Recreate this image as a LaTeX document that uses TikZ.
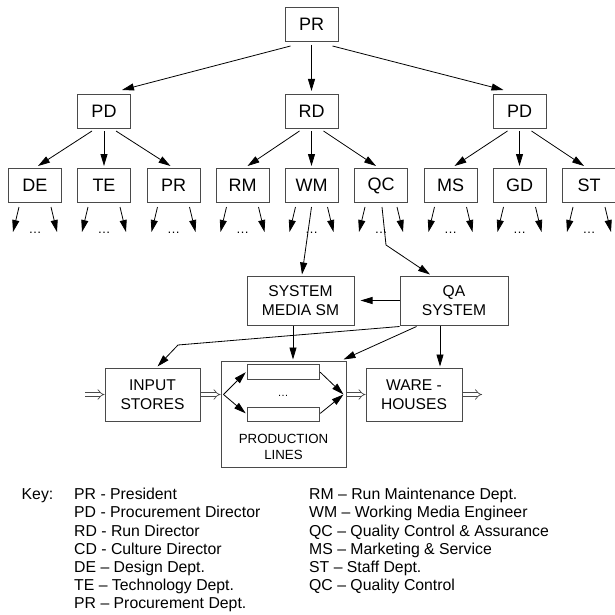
\documentclass[tikz,border=0pt]{standalone}
\usepackage{fontspec}
\setmainfont{Liberation Sans}
\usetikzlibrary{positioning,calc,arrows.meta}
\definecolor{edge}{HTML}{4A4A4A}

\begin{document}
\begin{tikzpicture}[x=1pt,y=-1pt,
  box/.style={draw=edge,line width=1pt,inner sep=0pt,align=center,
    minimum width=53pt,minimum height=34pt,font=\fontsize{18}{21}\selectfont},
  unit/.style={draw=edge,line width=1pt,inner sep=0pt,align=center,
    font=\fontsize{15.6}{18.5}\selectfont},
  bar/.style={draw=edge,line width=1pt,inner sep=0pt,
    minimum width=72pt,minimum height=15pt},
  arr/.style={line width=0.8pt,-{Triangle[length=12pt,width=7pt]}},
  flow/.style={draw=edge,line width=0.7pt,double,double distance=3pt,-Implies},
  keytext/.style={anchor=north west,inner sep=0pt,align=left,
    font=\fontsize{15.8}{18.2}\selectfont}]
  \useasboundingbox (0,0) rectangle (614,615);
  % organisation tree
  \node[box] (pr) at (311.5,24.5) {PR};
  \node[box] (pdl) at (104,111.5) {PD};
  \node[box] (rd) at (311.5,111.5) {RD};
  \node[box] (pdr) at (519.5,111.5) {PD};
  \node[box] (de) at (35,185.5) {DE};
  \node[box] (te) at (104,185.5) {TE};
  \node[box] (prd) at (173.5,185.5) {PR};
  \node[box] (rm) at (242.5,185.5) {RM};
  \node[box] (wm) at (311.5,185.5) {WM};
  \node[box] (qc) at (381,185.5) {QC};
  \node[box] (ms) at (450.5,185.5) {MS};
  \node[box] (gd) at (519.5,185.5) {GD};
  \node[box] (st) at (589,185.5) {ST};
  \draw[arr,shorten <=3pt,shorten >=3pt] (pr) -- (rd);
  \draw[arr] ($(pr.south)+(-21,4)$) -- ($(pdl.north)+(18,-4)$);
  \draw[arr] ($(pr.south)+(21,4)$) -- ($(pdr.north)+(-16,-4)$);
  \draw[arr] ($(pdl.south)+(-12,2)$) -- ($(de.north)+(3,-2)$);
  \draw[arr,shorten <=2pt,shorten >=2pt] (pdl) -- (te);
  \draw[arr] ($(pdl.south)+(12,2)$) -- ($(prd.north)+(-3,-2)$);
  \draw[arr] ($(rd.south)+(-12,2)$) -- ($(rm.north)+(5,-2)$);
  \draw[arr,shorten <=2pt,shorten >=2pt] (rd) -- (wm);
  \draw[arr] ($(rd.south)+(12,2)$) -- ($(qc.north)+(-5,-2)$);
  \draw[arr] ($(pdr.south)+(-12,2)$) -- ($(ms.north)+(4,-2)$);
  \draw[arr,shorten <=2pt,shorten >=2pt] (pdr) -- (gd);
  \draw[arr] ($(pdr.south)+(12,2)$) -- ($(st.north)+(-5,-2)$);
  \foreach \b in {de,te,prd,rm,wm,qc,ms,gd,st} {
    \coordinate (\b l) at ($(\b.south)+(-22,29)$);
    \coordinate (\b r) at ($(\b.south)+(22,29)$);
    \draw[arr] ($(\b.south)+(-16,4)$) -- (\b l);
    \draw[arr] ($(\b.south)+(16,4)$) -- (\b r);
    \node[anchor=base,font=\fontsize{13}{15}\selectfont] (dots\b) at ($(\b.south)+(0,30)$) {\dots};
  }
  % production flow
  \node[unit,minimum width=107pt,minimum height=49pt] (sms) at (300.5,300.5) {SYSTEM\\MEDIA SM};
  \node[unit,minimum width=108pt,minimum height=49pt] (qa) at (454,300.5) {QA\\SYSTEM};
  \node[unit,minimum width=95pt,minimum height=53pt] (input) at (152.5,394.5) {INPUT\\STORES};
  \node[draw=edge,line width=1pt,minimum width=125pt,minimum height=106pt] (prod) at (283.5,414) {};
  \node[unit,minimum width=96pt,minimum height=53pt] (ware) at (414,394.5) {WARE -\\HOUSES};
  \node[bar] (lineup) at (283,371.5) {};
  \node[bar,minimum height=14pt] (linedown) at (283,414) {};
  \node[font=\fontsize{11}{13}\selectfont] (proddots) at (283,396) {\dots};
  \node[align=center,font=\fontsize{13.3}{16}\selectfont] (prodlabel) at (283.5,447) {PRODUCTION\\LINES};
  \coordinate (qcbend) at (386,245);
  \coordinate (inbend) at (178,345);
  \draw[arr] ($(wm.south)+(0,4)$) -- ($(sms.north)+(1.5,-1)$);
  \draw[arr] ($(qc.south)+(1,4)$) -- (qcbend) -- ($(qa.north)+(-24,-1)$);
  \draw[arr,shorten >=6pt] (qa.west) -- (sms.east);
  \draw[arr] ($(qa.south west)+(0,1)$) -- (inbend) -- ($(input.north)+(5,-1)$);
  \draw[arr] ($(qa.south west)+(17,1)$) -- ($(prod.north east)+(-3,-1)$);
  \draw[arr] ($(qa.south)+(-14,0)$) -- ($(ware.north)+(26,-1)$);
  \draw[arr] ($(sms.south)+(-7.5,0)$) -- ($(prod.north)+(9.5,-1)$);
  \coordinate (inflow) at (85,394.5);
  \coordinate (outflow) at (482,394.5);
  \draw[flow] (inflow) -- (input.west);
  \draw[flow] (input.east) -- (input.east -| prod.west);
  \draw[flow] (prod.east |- ware.west) -- (ware.west);
  \draw[flow] (ware.east) -- (outflow);
  \coordinate (fanin) at ($(prod.west |- input.east)+(3,0)$);
  \coordinate (fanout) at ($(prod.east |- input.east)+(-3,0)$);
  \draw[arr,shorten >=1pt] (fanin) -- (lineup.west);
  \draw[arr,shorten >=1pt] (fanin) -- (linedown.west);
  \draw[arr,shorten <=1pt] (lineup.east) -- (fanout);
  \draw[arr,shorten <=1pt] (linedown.east) -- (fanout);
  % key
  \node[keytext] (keyword) at (21.5,488) {Key:};
  \node[keytext] (keyleft) at (74,488) {PR - President\\PD - Procurement Director\\RD - Run Director\\CD - Culture Director\\DE – Design Dept.\\TE – Technology Dept.\\PR – Procurement Dept.};
  \node[keytext] (keyright) at (309,488) {RM – Run Maintenance Dept.\\WM – Working Media Engineer\\QC – Quality Control \& Assurance\\MS – Marketing \& Service\\ST – Staff Dept.\\QC – Quality Control};
\end{tikzpicture}
\end{document}
